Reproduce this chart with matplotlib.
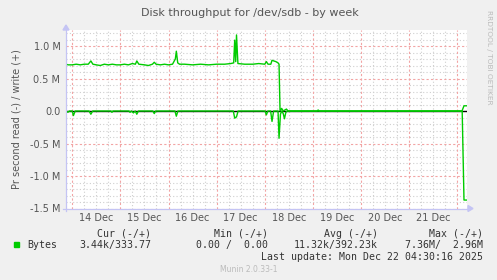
import matplotlib
matplotlib.use("Agg")
import matplotlib.pyplot as plt
from matplotlib.ticker import FixedLocator, FuncFormatter
from matplotlib.lines import Line2D
from matplotlib.patches import Polygon

# ---- data (hours since 14 Dec 00:00; values in MB/s) ----
write_hours = [-3.1, -2, 0, 2, 4, 6, 8, 9.3, 10.3, 12, 14, 16, 18, 20, 22, 24, 26, 28,
               30, 31.5, 32.2, 33.2, 36, 38, 40, 40.9, 41.8, 44, 46, 48, 50, 51.4, 51.9,
               52.6, 53.5, 56, 60, 64, 68, 72, 76, 79, 80.5, 81.0, 81.5, 81.9, 82.6, 86, 90,
               93, 96, 96.8, 97.6, 99, 99.6, 100.5, 101.5, 102.6, 103.1, 103.6, 104.4,
               105.2, 106.8, 107.6, 112, 122.0, 122.6, 123.2, 140, 160, 180, 194.3, 195.3,
               196.8]
write_vals = [0.72, 0.71, 0.71, 0.72, 0.71, 0.72, 0.72, 0.77, 0.72, 0.71, 0.70, 0.72, 0.71,
              0.72, 0.71, 0.71, 0.72, 0.71, 0.73, 0.72, 0.77, 0.72, 0.71, 0.70, 0.72, 0.75,
              0.72, 0.71, 0.72, 0.71, 0.72, 0.80, 0.92, 0.74, 0.72, 0.72, 0.71, 0.72, 0.71,
              0.72, 0.72, 0.73, 0.74, 1.09, 0.76, 1.17, 0.73, 0.72, 0.72, 0.73, 0.72, 0.76,
              0.72, 0.72, 0.78, 0.77, 0.76, 0.74, 0.72, 0.0, 0.04, 0.0, 0.03, 0.0, 0.0,
              0.0, 0.015, 0.0, 0.0, 0.0, 0.0, 0.0, 0.08, 0.08]

read_hours = [-3.1, -2.2, -1.4, 0.0, 0.6, 1.5, 8.4, 9.3, 10.2, 19.3, 19.8, 20.3, 28.3,
              28.8, 29.6, 30.5, 31.4, 32.2, 33.0, 40.2, 40.9, 41.6, 51.2, 51.9, 52.7, 80.3,
              81.0, 81.9, 82.7, 96.1, 96.8, 97.5, 98.9, 99.6, 100.4, 102.6, 103.1, 103.8,
              104.4, 105.2, 105.8, 106.5, 107.2, 120, 150, 194.4, 195.3, 196.8]
read_vals = [0.0, 0.02, 0.0, 0.0, 0.07, 0.0, 0.0, 0.05, 0.0, 0.0, 0.02, 0.0, 0.0, 0.02, 0.0,
             0.03, 0.0, 0.05, 0.0, 0.0, 0.04, 0.0, 0.0, 0.08, 0.0, 0.0, 0.11, 0.09, 0.0, 0.0,
             0.06, 0.0, 0.0, 0.16, 0.0, 0.0, 0.42, 0.05, 0.0, 0.04, 0.12, 0.02, 0.0, 0.0,
             0.0, 0.0, 1.37, 1.37]

day_labels = ["14 Dec", "15 Dec", "16 Dec", "17 Dec", "18 Dec", "19 Dec", "20 Dec", "21 Dec"]
y_ticks = [-1.5, -1.0, -0.5, 0.0, 0.5, 1.0]
y_tick_labels = ["-1.5 M", "-1.0 M", "-0.5 M", "0.0", "0.5 M", "1.0 M"]

legend_name = "Bytes"
col_headers = ["Cur (-/+)", "Min (-/+)", "Avg (-/+)", "Max (-/+)"]
col_values = ["3.44k/333.77", "0.00 /  0.00", "11.32k/392.23k", "7.36M/  2.96M"]

# ---- figure ----
W, H = 497, 280
fig = plt.figure(figsize=(W / 100, H / 100), dpi=100, facecolor="#F0F0F0")
L, R, T, B = 66, 467, 29.75, 208.5
ax = fig.add_axes([L / W, 1 - B / H, (R - L) / W, (B - T) / H])
ax.set_facecolor("white")
xmin, xmax = -3.1, 196.8
ax.set_xlim(xmin, xmax)
ax.set_ylim(-1.5, 1.25)

green = "#00CC00"
gridc = "#CFCFCF"
majc = "#F2A4A4"

# minor grid
for h in range(0, 200, 6):
    if h % 24 != 0 and xmin < h < xmax:
        ax.axvline(h, color=gridc, lw=0.8, ls=(0, (1, 2)), zorder=1)
for k in range(-15, 13):
    v = k / 10
    if k % 5 != 0:
        ax.axhline(v, color=gridc, lw=0.8, ls=(0, (1, 2)), zorder=1)
# major grid
for d in range(0, 9):
    ax.axvline(d * 24, color=majc, lw=0.8, ls=(0, (2, 2)), zorder=1.5)
for v in y_ticks:
    ax.axhline(v, color=majc, lw=0.8, ls=(0, (2, 2)), zorder=1.5)

ax.axhline(0, color="black", lw=1.0, zorder=3)

ax.plot(write_hours, write_vals, color=green, lw=1.0, zorder=4)
ax.plot(read_hours, [-v for v in read_vals], color=green, lw=1.0, zorder=4)

for s in ax.spines.values():
    s.set_visible(False)

ax.xaxis.set_major_locator(FixedLocator([12 + 24 * i for i in range(len(day_labels))]))
ax.xaxis.set_major_formatter(FuncFormatter(lambda x, p: day_labels[int(round((x - 12) / 24))]))
ax.yaxis.set_major_locator(FixedLocator(y_ticks))
ax.set_yticklabels(y_tick_labels)
ax.tick_params(axis="both", length=0, labelsize=7, labelcolor="#555555", pad=4)
ax.tick_params(axis="x", pad=3)

ax.set_ylabel("Pr second read (-) / write (+)", fontsize=7, color="#555555", labelpad=6)

def px(x, y):
    return x / W, 1 - y / H

# axis lines with small arrows (lavender)
axc = "#C4C4F4"
fig.add_artist(Line2D([px(63, 0)[0], px(468, 0)[0]], [px(0, 208.5)[1]] * 2,
                      color=axc, lw=0.9, transform=fig.transFigure))
fig.add_artist(Polygon([px(468, 205.5), px(473, 208.5), px(468, 211.5)], closed=True,
                       color=axc, transform=fig.transFigure))
fig.add_artist(Line2D([px(66, 0)[0]] * 2, [px(0, 211)[1], px(0, 30)[1]],
                      color=axc, lw=0.9, transform=fig.transFigure))
fig.add_artist(Polygon([px(63, 30), px(66, 25), px(69, 30)], closed=True,
                       color=axc, transform=fig.transFigure))

fig.text(*px(250, 13), "Disk throughput for /dev/sdb - by week", ha="center", va="center",
         fontsize=8, color="#555555")
fig.text(*px(489, 57), "RRDTOOL / TOBI OETIKER", rotation=270, ha="center", va="center",
         fontsize=5.3, color="#BBBBBB")

mono = "DejaVu Sans Mono"
fs = 7.1
fig.patches.append(matplotlib.patches.Rectangle(px(14, 247), 5 / W, 5 / H, color=green,
                                                transform=fig.transFigure))
fig.text(*px(27, 245), legend_name, family=mono, fontsize=fs, color="#333333", va="center")
rights = [151, 268, 378, 483]
for r, hd, vv in zip(rights, col_headers, col_values):
    fig.text(*px(r, 234), hd, family=mono, fontsize=fs, color="#333333", va="center", ha="right")
    fig.text(*px(r, 245), vv, family=mono, fontsize=fs, color="#333333", va="center", ha="right")
fig.text(*px(483, 257), "Last update: Mon Dec 22 04:30:16 2025", family=mono, fontsize=fs,
         color="#333333", va="center", ha="right")
fig.text(*px(249, 269), "Munin 2.0.33-1", fontsize=5.5, color="#BBBBBB", va="center", ha="center")

fig.savefig("out.png", dpi=100, facecolor=fig.get_facecolor())
